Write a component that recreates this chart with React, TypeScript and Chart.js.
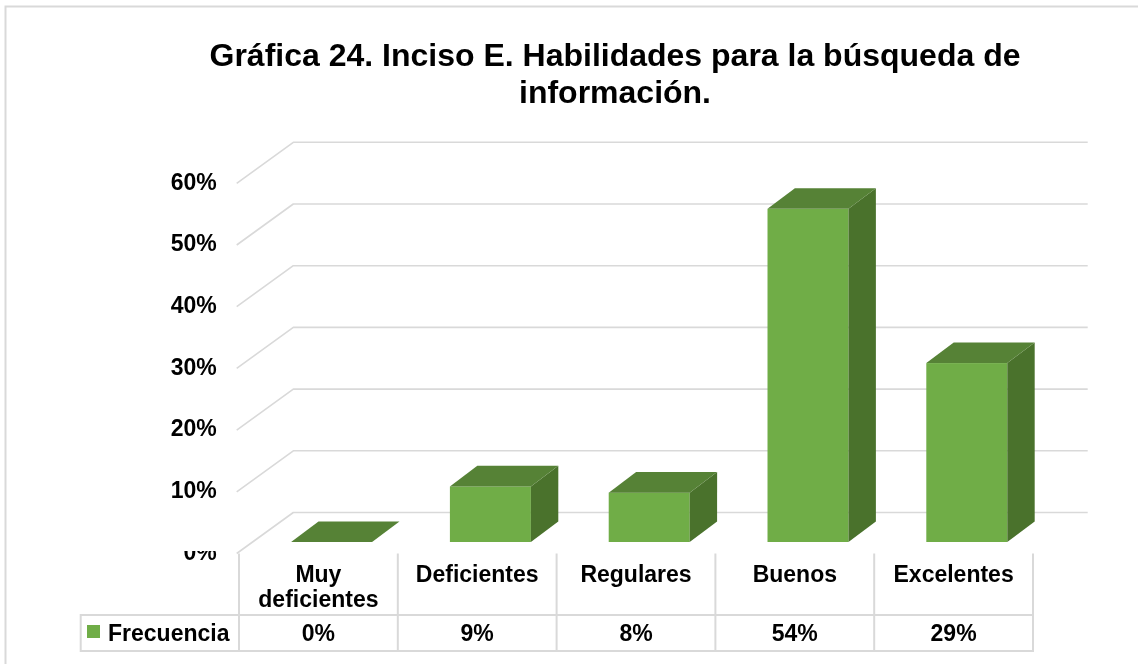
import React, { useEffect, useRef } from 'react';
import { Chart, registerables } from 'chart.js';

Chart.register(...registerables);

// ---- data ----
const titleLines = ['Gráfica 24. Inciso E. Habilidades para la búsqueda de', 'información.'];
const categoryLines = [['Muy', 'deficientes'], ['Deficientes'], ['Regulares'], ['Buenos'], ['Excelentes']];
const categories = categoryLines.map((l) => l.join(' '));
const seriesName = 'Frecuencia';
const values = [0, 9, 8, 54, 29];
const valueLabels = ['0%', '9%', '8%', '54%', '29%'];
const yMin = 0;
const yMax = 60;
const yStep = 10;

// ---- styles ----
const FONT = '"Liberation Sans", Arial, Helvetica, sans-serif';
const GREEN = '#70AD47';
const TOP = '#568236';
const SIDE = '#4A722C';
const GRID = '#d9d9d9';
const TABLE_LINE = '#d9d9d9';

// oblique projection (floor depth) and bar placement within it
const DEPTH_X = 56.6;
const DEPTH_Y = 41.0;
const FRONT_DX = 13.2;
const FRONT_DY = 11.5;
const BAR_DX = 27.4;
const BAR_DY = 20.6;
const WALL_RIGHT = 1087.7;

const threeDPlugin = {
  id: 'threeD',
  beforeDatasetsDraw(chart: any) {
    const { ctx, chartArea } = chart;
    const y = chart.scales.y;
    ctx.save();
    ctx.strokeStyle = GRID;
    ctx.lineWidth = 1.6;
    ctx.lineJoin = 'round';
    y.ticks.forEach((t: any) => {
      const yf = y.getPixelForValue(t.value);
      const xf = chartArea.left - 2.3;
      ctx.beginPath();
      ctx.moveTo(xf, yf);
      ctx.lineTo(xf + DEPTH_X, yf - DEPTH_Y);
      ctx.lineTo(WALL_RIGHT, yf - DEPTH_Y);
      ctx.stroke();
    });
    ctx.restore();
  },
  afterDatasetsDraw(chart: any) {
    const { ctx } = chart;
    const meta = chart.getDatasetMeta(0);
    ctx.save();
    meta.data.forEach((el: any) => {
      const { x, y, base, width } = el.getProps(['x', 'y', 'base', 'width'], true);
      const xl = x - width / 2 + FRONT_DX;
      const xr = x + width / 2 + FRONT_DX;
      const yt = y - FRONT_DY;
      const yb = base - FRONT_DY;
      if (yb - yt > 0.5) {
        ctx.fillStyle = GREEN;
        ctx.fillRect(xl, yt, xr - xl, yb - yt);
        ctx.fillStyle = SIDE;
        ctx.beginPath();
        ctx.moveTo(xr, yt);
        ctx.lineTo(xr + BAR_DX, yt - BAR_DY);
        ctx.lineTo(xr + BAR_DX, yb - BAR_DY);
        ctx.lineTo(xr, yb);
        ctx.closePath();
        ctx.fill();
      }
      ctx.fillStyle = TOP;
      ctx.beginPath();
      ctx.moveTo(xl, yt);
      ctx.lineTo(xr, yt);
      ctx.lineTo(xr + BAR_DX, yt - BAR_DY);
      ctx.lineTo(xl + BAR_DX, yt - BAR_DY);
      ctx.closePath();
      ctx.fill();
    });
    ctx.restore();
  },
  afterDraw(chart: any) {
    const { ctx, chartArea } = chart;
    const xs = chart.scales.x;
    const y = chart.scales.y;
    ctx.save();

    // clip top of the 0% label like the original
    ctx.fillStyle = '#ffffff';
    ctx.fillRect(140, y.getPixelForValue(0) - 14, chartArea.left - 145, 11.5);

    // outer frame
    ctx.strokeStyle = '#d9d9d9';
    ctx.lineWidth = 2;
    ctx.strokeRect(5.5, 6.5, 1300, 800);

    // title
    ctx.fillStyle = '#000';
    ctx.font = `bold 32px ${FONT}`;
    ctx.textAlign = 'center';
    ctx.textBaseline = 'alphabetic';
    titleLines.forEach((line, i) => ctx.fillText(line, 615, 66 + i * 37));

    // data table
    const floorY = y.getPixelForValue(0);
    const rowTop = 615;
    const rowBottom = 651;
    const band = (chartArea.right - chartArea.left) / categories.length;
    const legendLeft = 80.7;
    ctx.strokeStyle = TABLE_LINE;
    ctx.lineWidth = 2;
    for (let i = 0; i <= categories.length; i++) {
      const xv = i < categories.length ? xs.getPixelForValue(i) - band / 2 : xs.getPixelForValue(categories.length - 1) + band / 2;
      ctx.beginPath();
      ctx.moveTo(xv, floorY);
      ctx.lineTo(xv, rowBottom);
      ctx.stroke();
    }
    ctx.beginPath();
    ctx.moveTo(legendLeft, rowTop);
    ctx.lineTo(legendLeft, rowBottom);
    ctx.moveTo(legendLeft - 1, rowTop);
    ctx.lineTo(chartArea.right + 1, rowTop);
    ctx.moveTo(legendLeft - 1, rowBottom);
    ctx.lineTo(chartArea.right + 1, rowBottom);
    ctx.stroke();

    ctx.fillStyle = '#000';
    ctx.font = `bold 23px ${FONT}`;
    ctx.textAlign = 'center';
    categoryLines.forEach((lines, i) => {
      const cx = xs.getPixelForValue(i);
      lines.forEach((ln, j) => ctx.fillText(ln, cx, 582 + j * 24.5));
      ctx.fillText(valueLabels[i], cx, 641);
    });

    // legend key
    ctx.fillStyle = GREEN;
    ctx.fillRect(87, 625, 13, 13);
    ctx.fillStyle = '#000';
    ctx.textAlign = 'left';
    ctx.fillText(seriesName, 108, 641);

    ctx.restore();
  },
};

export default function App() {
  const ref = useRef<HTMLCanvasElement | null>(null);

  useEffect(() => {
    if (!ref.current) return;
    const chart = new Chart(ref.current, {
      type: 'bar',
      data: {
        labels: categories,
        datasets: [
          {
            label: seriesName,
            data: values,
            backgroundColor: 'rgba(0,0,0,0)',
            borderWidth: 0,
            barPercentage: 0.51,
            categoryPercentage: 1.0,
          },
        ],
      },
      options: {
        responsive: false,
        animation: false,
        layout: { padding: { top: 183.3, bottom: 664 - 553.5, left: 239 - 70, right: 1138 - 1033 } },
        plugins: {
          legend: { display: false },
          title: { display: false },
          tooltip: { enabled: false },
        },
        scales: {
          x: { display: false },
          y: {
            min: yMin,
            max: yMax,
            border: { display: false },
            grid: { display: false, drawTicks: false },
            afterFit: (scale: any) => {
              scale.width = 70;
            },
            ticks: {
              stepSize: yStep,
              padding: 22.3,
              color: '#000',
              font: { family: FONT, size: 23, weight: 'bold' },
              callback: (v: any) => `${v}%`,
            },
          },
        },
      },
      plugins: [threeDPlugin],
    });
    return () => chart.destroy();
  }, []);

  return (
    <div style={{ position: 'fixed', left: 0, top: 0, width: 1138, height: 664, background: '#fff' }}>
      <canvas ref={ref} width={1138} height={664} style={{ display: 'block' }} />
    </div>
  );
}
